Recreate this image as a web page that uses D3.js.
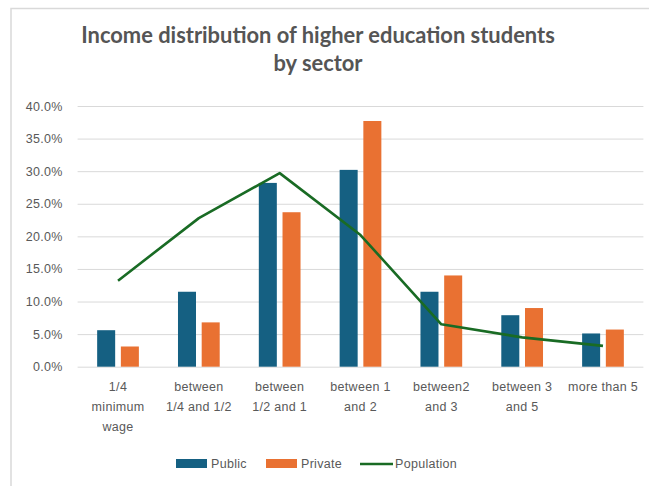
<!DOCTYPE html>
<html>
<head>
<meta charset="utf-8">
<script src="https://cdn.jsdelivr.net/npm/d3@7/dist/d3.min.js"></script>
<style>
  html, body { margin: 0; padding: 0; background: #fff; }
  svg { display: block; }
</style>
</head>
<body>
<script>
// Income brackets (in minimum wages), one entry per category, split into label lines
const categories = [
  "1/4 minimum wage",
  "between 1/4 and 1/2",
  "between 1/2 and 1",
  "between 1 and 2",
  "between2 and 3",
  "between 3 and 5",
  "more than 5"
];
const categoryLines = [
  ["1/4", "minimum", "wage"],
  ["between", "1/4 and 1/2"],
  ["between", "1/2 and 1"],
  ["between 1", "and 2"],
  ["between2", "and 3"],
  ["between 3", "and 5"],
  ["more than 5"]
];
const seriesNames = ["Public", "Private"];
const publicValues  = [0.056, 0.115, 0.282, 0.302, 0.115, 0.079, 0.051];
const privateValues = [0.031, 0.068, 0.237, 0.377, 0.140, 0.090, 0.057];
const populationValues = [0.132, 0.228, 0.297, 0.202, 0.065, 0.045, 0.032];
const yTicks = [0, 0.05, 0.10, 0.15, 0.20, 0.25, 0.30, 0.35, 0.40];

const colors = { Public: "#156082", Private: "#E97132", Population: "#196B24" };
const textColor = "#595959";
const font = "'Liberation Sans', Arial, sans-serif";

const W = 649, H = 486;
const svg = d3.select("body").append("svg").attr("width", W).attr("height", H);

// outer chart frame
svg.append("rect")
  .attr("x", 11).attr("y", 8.5).attr("width", W + 20).attr("height", H + 20)
  .attr("fill", "#fff").attr("stroke", "#d9d9d9").attr("stroke-width", 1.5);

// title
const title = svg.append("text")
  .attr("text-anchor", "middle")
  .attr("font-family", "Lato, 'Open Sans', sans-serif")
  .attr("font-weight", "bold")
  .attr("font-size", 21.9)
  .attr("fill", "#555555");
title.append("tspan").attr("x", 318).attr("y", 43).text("Income distribution of higher education students");
title.append("tspan").attr("x", 318).attr("y", 71).text("by sector");

const plot = { left: 77.6, right: 643.4, top: 106, bottom: 366.7 };

const x = d3.scaleBand().domain(categories).range([plot.left, plot.right]).padding(0);
const xs = d3.scaleBand().domain(seriesNames).range([0, x.bandwidth()])
  .paddingInner(0.24).paddingOuter(0.825);
const y = d3.scaleLinear().domain([0, 0.40]).range([plot.bottom, plot.top]);

// gridlines + y axis labels
const yAxis = d3.axisLeft(y).tickValues(yTicks)
  .tickFormat(d3.format(".1%"))
  .tickSize(-(plot.right - plot.left)).tickPadding(15);
const gy = svg.append("g").attr("transform", `translate(${plot.left},0)`).call(yAxis);
gy.select(".domain").remove();
gy.selectAll(".tick line").attr("stroke", "#d9d9d9").attr("stroke-width", 1);
gy.selectAll(".tick text")
  .attr("font-family", font).attr("font-size", 12.5).attr("fill", textColor)
  .attr("letter-spacing", 0.3);

// bars
const rows = categories.map((c, i) => ({ cat: c, Public: publicValues[i], Private: privateValues[i] }));
const groups = svg.append("g").selectAll("g").data(rows).join("g")
  .attr("transform", d => `translate(${x(d.cat)},0)`);
groups.selectAll("rect")
  .data(d => seriesNames.map(s => ({ s, v: d[s] })))
  .join("rect")
  .attr("x", d => xs(d.s))
  .attr("width", xs.bandwidth())
  .attr("y", d => y(d.v))
  .attr("height", d => y(0) - y(d.v))
  .attr("fill", d => colors[d.s]);

// population line
const line = d3.line()
  .x((d, i) => x(categories[i]) + x.bandwidth() / 2)
  .y(d => y(d));
svg.append("path")
  .datum(populationValues)
  .attr("d", line)
  .attr("fill", "none")
  .attr("stroke", colors.Population)
  .attr("stroke-width", 2.6)
  .attr("stroke-linejoin", "round");

// category labels
const xl = svg.append("g");
categories.forEach((c, i) => {
  const t = xl.append("text")
    .attr("text-anchor", "middle")
    .attr("font-family", font).attr("font-size", 12.5).attr("fill", textColor)
    .attr("letter-spacing", 0.3);
  categoryLines[i].forEach((ln, j) => {
    t.append("tspan").attr("x", x(c) + x.bandwidth() / 2).attr("y", 391 + j * 20).text(ln);
  });
});

// legend
const legend = svg.append("g").attr("font-family", font).attr("font-size", 12.5).attr("fill", textColor);
const legendItems = [
  { name: "Public", x: 176, type: "rect" },
  { name: "Private", x: 266, type: "rect" },
  { name: "Population", x: 360, type: "line" }
];
legendItems.forEach(it => {
  if (it.type === "rect") {
    legend.append("rect").attr("x", it.x).attr("y", 459).attr("width", 31).attr("height", 9)
      .attr("fill", colors[it.name]);
  } else {
    legend.append("line").attr("x1", it.x).attr("x2", it.x + 33).attr("y1", 464).attr("y2", 464)
      .attr("stroke", colors[it.name]).attr("stroke-width", 2.6);
  }
  legend.append("text").attr("x", it.x + 35).attr("y", 468).attr("letter-spacing", 0.3).text(it.name);
});
</script>
</body>
</html>
